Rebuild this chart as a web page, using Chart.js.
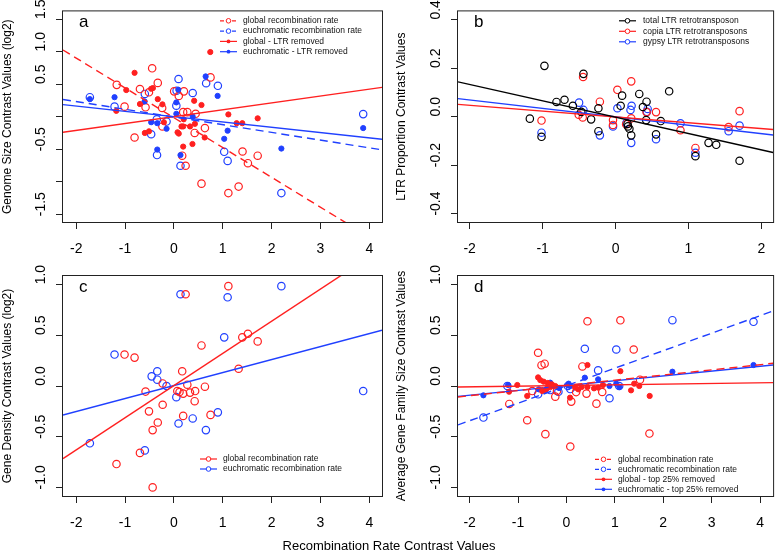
<!DOCTYPE html>
<html>
<head>
<meta charset="utf-8">
<title>Recombination rate contrasts</title>
<script src="https://cdn.jsdelivr.net/npm/chart.js@4.4.1/dist/chart.umd.min.js"></script>
<style>
  html, body { margin: 0; padding: 0; background: #fff; }
  #wrap { position: relative; width: 778px; height: 552px; overflow: hidden;
          font-family: 'Liberation Sans', Arial, Helvetica, sans-serif; }
  #wrap canvas { position: absolute; }
  #xTitle { position: absolute; left: 0; top: 538px; width: 778px; text-align: center;
            font-size: 13px; line-height: 15px; color: #000; }
</style>
</head>
<body>
<div id="wrap">
  <canvas id="chartA" width="389" height="262" style="left:0;top:0"></canvas>
  <canvas id="chartB" width="389" height="262" style="left:389px;top:0"></canvas>
  <canvas id="chartC" width="389" height="290" style="left:0;top:262px"></canvas>
  <canvas id="chartD" width="389" height="290" style="left:389px;top:262px"></canvas>
  <div id="xTitle">Recombination Rate Contrast Values</div>
</div>
<script>
// ==================== Data ====================

// --- panel a: genome size ---
const aGlobalX = [-1.17, -1.01, -0.805, -0.695, -0.58, -0.51, -0.445, -0.33, -0.24, -0.235, 0.005, 0.10, 0.205, 0.19, 0.275, 0.445, 0.425, 0.635, 0.75, 0.24, 0.17, 0.565, 1.115, 1.325, 1.405, 1.515, 1.715];
const aGlobalY = [0.49, 0.155, -0.32, 0.425, 0.145, 0.375, 0.745, 0.52, 0.135, -0.15, 0.39, 0.32, 0.39, 0.07, 0.07, 0.045, -0.25, -0.175, 0.605, -0.755, -0.60, -1.03, -1.175, -1.075, -0.535, -0.715, -0.60];
const aEuchX = [-1.72, -1.215, -0.595, -0.465, -0.345, -0.35, -0.15, 0.05, 0.055, 0.095, 0.135, 0.385, 0.66, 0.90, 1.03, 1.10, 2.20, 3.875];
const aEuchY = [0.30, 0.155, 0.35, -0.27, -0.59, -0.04, -0.075, 0.17, 0.40, 0.58, -0.755, 0.365, 0.515, 0.475, -0.54, -0.68, -1.175, 0.04];
const aGlobalLtrX = [-1.18, -0.975, -0.805, -0.695, -0.595, -0.51, -0.465, -0.43, -0.33, -0.235, -0.205, 0.075, 0.10, 0.155, 0.19, 0.19, 0.20, 0.33, 0.38, 0.415, 0.43, 0.565, 0.63, 0.745, 1.115, 1.285, 1.40, 1.715];
const aGlobalLtrY = [0.09, 0.41, 0.675, 0.195, -0.25, -0.225, 0.43, 0.44, 0.27, 0.19, -0.085, -0.24, -0.26, -0.15, -0.15, -0.46, -0.04, -0.15, -0.42, 0.245, -0.11, 0.18, -0.32, 0.995, 0.035, -0.10, -0.10, -0.025];
const aEuchLtrX = [-1.72, -1.215, -0.60, -0.465, -0.34, -0.34, -0.15, 0.05, 0.05, 0.09, 0.135, 0.385, 0.65, 0.895, 1.03, 1.10, 2.20, 3.875];
const aEuchLtrY = [0.27, 0.30, 0.235, -0.085, -0.505, -0.10, -0.185, 0.22, 0.045, 0.415, -0.59, 0.0, 0.62, 0.32, -0.34, -0.215, -0.49, -0.175];
const aFitX = [-2.27, 4.26];
const aGlobalFit = [1.026, -1.97];
const aEuchFit = [0.265, -0.51];
const aGlobalLtrFit = [-0.24, 0.452];
const aEuchLtrFit = [0.186, -0.347];
const aXTicks = [-2, -1, 0, 1, 2, 3, 4];
const aXLabels = ['-2', '-1', '0', '1', '2', '3', '4'];
const aYTicks = [-1.5, -1, -0.5, 0, 0.5, 1, 1.5];
const aYLabels = ['-1.5', '', '-0.5', '', '0.5', '1.0', '1.5'];

// --- panel b: LTR proportion ---
const bTotalX = [-1.175, -1.015, -0.975, -0.81, -0.70, -0.585, -0.44, -0.47, -0.335, -0.235, -0.235, 0.07, 0.09, 0.165, 0.17, 0.19, 0.215, 0.325, 0.375, 0.425, 0.42, 0.555, 0.62, 0.735, 1.095, 1.275, 1.38, 1.70];
const bTotalY = [-0.008, -0.083, 0.21, 0.061, 0.07, 0.045, 0.177, 0.02, -0.011, 0.035, -0.06, 0.045, 0.087, -0.03, -0.04, -0.05, -0.077, 0.094, 0.04, 0.062, -0.014, -0.073, -0.018, 0.105, -0.163, -0.108, -0.116, -0.182];
const bCopiaX = [-1.015, -0.505, -0.445, -0.45, -0.215, -0.035, -0.035, 0.025, 0.145, 0.215, 0.215, 0.425, 0.555, 0.89, 1.095, 1.55, 1.70];
const bCopiaY = [-0.016, 0.008, 0.164, -0.003, 0.062, -0.034, -0.014, 0.111, -0.031, 0.146, -0.007, 0.019, 0.019, -0.056, -0.129, -0.043, 0.023];
const bGypsyX = [-1.015, -0.50, -0.44, -0.215, -0.035, 0.025, 0.15, 0.205, 0.22, 0.215, 0.44, 0.43, 0.555, 0.89, 1.095, 1.55, 1.70];
const bGypsyY = [-0.066, 0.058, 0.028, -0.077, -0.04, 0.035, -0.025, 0.028, 0.045, -0.108, 0.032, 0.02, -0.093, -0.027, -0.149, -0.06, -0.037];
const bFitX = [-2.16, 2.16];
const bTotalFit = [0.144, -0.148];
const bCopiaFit = [0.051, -0.053];
const bGypsyFit = [0.0745, -0.0757];
const bXTicks = [-2, -1, 0, 1, 2];
const bXLabels = ['-2', '-1', '0', '1', '2'];
const bYTicks = [-0.4, -0.2, 0, 0.2, 0.4];
const bYLabels = ['-0.4', '-0.2', '0.0', '0.2', '0.4'];

// --- panel c: gene density ---
const cGlobalX = [-1.01, -0.805, -1.175, -0.695, -0.58, -0.51, -0.435, -0.435, -0.33, -0.23, -0.23, 0.07, 0.115, 0.17, 0.19, 0.19, 0.24, 0.275, 0.33, 0.435, 0.425, 0.565, 0.635, 0.75, 1.115, 1.325, 1.40, 1.515, 1.715];
const cGlobalY = [0.31, 0.28, -0.77, -0.66, -0.055, -0.25, -0.435, -1.0, -0.36, -0.185, 0.025, -0.05, -0.06, 0.145, -0.075, -0.295, 0.905, 0.013, -0.065, -0.05, -0.15, 0.40, -0.007, -0.285, 0.985, 0.17, 0.48, 0.515, 0.44];
const cEuchX = [-1.72, -1.215, -0.595, -0.455, -0.34, -0.34, -0.15, 0.05, 0.095, 0.135, 0.385, 0.655, 0.90, 1.03, 1.10, 2.20, 3.875];
const cEuchY = [-0.565, 0.31, -0.635, 0.095, 0.145, 0.062, 0.0, -0.11, -0.37, 0.905, -0.32, -0.435, -0.26, 0.48, 0.875, 0.985, -0.05];
const cFitX = [-2.27, 4.26];
const cGlobalFit = [-0.716, 1.356];
const cEuchFit = [-0.287, 0.55];
const cXTicks = [-2, -1, 0, 1, 2, 3, 4];
const cXLabels = ['-2', '-1', '0', '1', '2', '3', '4'];
const cYTicks = [-1, -0.5, 0, 0.5, 1];
const cYLabels = ['-1.0', '-0.5', '0.0', '0.5', '1.0'];

// --- panel d: average gene family size ---
const dGlobalX = [-1.18, -0.81, -0.705, -0.585, -0.515, -0.45, -0.435, -0.23, -0.195, 0.08, 0.10, 0.20, 0.33, 0.415, 0.435, 0.62, 0.74, 1.115, 1.39, 1.52, 1.715];
const dGlobalY = [-0.177, -0.338, -0.05, 0.328, 0.205, 0.22, -0.475, -0.105, -0.05, -0.597, -0.154, -0.06, 0.193, -0.075, 0.638, -0.174, -0.059, 0.648, 0.36, 0.062, -0.469];
const dEuchX = [-1.715, -1.22, -0.585, -0.335, -0.165, 0.03, 0.08, 0.38, 0.655, 0.89, 1.03, 1.09, 2.19, 3.865];
const dEuchY = [-0.311, 0.0, -0.082, -0.04, -0.056, 0.0, -0.03, 0.367, 0.154, -0.121, 0.36, 0.0, 0.649, 0.633];
const dGlobalTopX = [-1.185, -1.015, -0.81, -0.585, -0.54, -0.47, -0.385, -0.30, -0.23, -0.40, -0.50, -0.44, -0.33, 0.075, 0.18, 0.245, 0.315, 0.435, 0.435, 0.57, 0.655, 0.755, 1.115, 1.335, 1.40, 1.505, 1.72];
const dGlobalTopY = [-0.056, 0.01, -0.098, 0.085, 0.058, 0.043, 0.03, 0.016, 0.0, -0.023, -0.05, -0.045, -0.01, -0.115, -0.016, -0.033, -0.01, 0.207, -0.01, -0.023, -0.016, 0.01, 0.146, -0.043, 0.023, 0.0, -0.098];
const dEuchTopX = [-1.715, -1.205, -0.57, -0.335, -0.15, 0.03, 0.045, 0.075, 0.38, 0.655, 0.89, 1.03, 1.095, 2.19, 3.865];
const dEuchTopY = [-0.092, 0.01, -0.033, 0.033, -0.02, 0.007, 0.023, 0.0, 0.082, 0.066, 0.0, 0.023, -0.01, 0.141, 0.207];
const dFitX = [-2.24, 4.27];
const dGlobalFit = [-0.108, 0.224];
const dEuchFit = [-0.384, 0.740];
const dGlobalTopFit = [-0.0098, 0.033];
const dEuchTopFit = [-0.102, 0.207];
const dXTicks = [-2, -1, 0, 1, 2, 3, 4];
const dXLabels = ['-2', '-1', '0', '1', '2', '3', '4'];
const dYTicks = [-1, -0.5, 0, 0.5, 1];
const dYLabels = ['-1.0', '-0.5', '0.0', '0.5', '1.0'];

// ==================== Styles ====================
const RED = '#ff2020';
const BLUE = '#2040ff';
const BLACK = '#000000';
const FONT = "'Liberation Sans', Arial, Helvetica, sans-serif";
const DASH = [8, 5];

// ==================== Helpers ====================
function pts(xs, ys) {
  return xs.map((x, i) => ({ x: x, y: ys[i] }));
}

function pointSet(label, xs, ys, color, filled, dashed) {
  return {
    label: label,
    data: pts(xs, ys),
    showLine: false,
    pointStyle: 'circle',
    pointRadius: filled ? 2.6 : 3.7,
    pointHoverRadius: filled ? 2.6 : 3.7,
    pointBorderWidth: filled ? 1 : 1.2,
    pointBackgroundColor: filled ? color : 'rgba(0,0,0,0)',
    pointBorderColor: color,
    borderColor: color,
    backgroundColor: color,
    legendFilled: filled,
    legendDashed: dashed,
    order: filled ? 2 : 3
  };
}

function fitLine(xs, ys, color, dashed) {
  return {
    data: pts(xs, ys),
    showLine: true,
    borderColor: color,
    borderWidth: 1.4,
    borderDash: dashed ? DASH : [],
    pointRadius: 0,
    pointHoverRadius: 0,
    fill: false,
    isFit: true,
    order: 1
  };
}

// plot box, panel letter and R-style legend
const panelPlugin = {
  id: 'panelDeco',
  afterDatasetsDraw(chart, args, opts) {
    const ctx = chart.ctx;
    const ca = chart.chartArea;
    ctx.save();
    ctx.strokeStyle = '#222';
    ctx.lineWidth = 1;
    ctx.strokeRect(ca.left - 0.5, ca.top - 0.5, ca.right - ca.left + 1, ca.bottom - ca.top + 1);

    ctx.fillStyle = '#000';
    ctx.font = '17px ' + FONT;
    ctx.textBaseline = 'alphabetic';
    ctx.textAlign = 'left';
    ctx.fillText(opts.letter, ca.left + 16, ca.top + 16);

    const items = chart.data.datasets.filter(d => !d.isFit);
    ctx.font = '8.5px ' + FONT;
    ctx.textBaseline = 'middle';
    items.forEach((ds, i) => {
      const y = opts.y + i * opts.rowH;
      const cx = opts.x + opts.seg / 2;
      ctx.strokeStyle = ds.pointBorderColor;
      ctx.lineWidth = 1.2;
      ctx.setLineDash(ds.legendDashed ? [4, 2] : []);
      ctx.beginPath();
      ctx.moveTo(opts.x, y);
      ctx.lineTo(opts.x + opts.seg, y);
      ctx.stroke();
      ctx.setLineDash([]);
      ctx.beginPath();
      if (ds.legendFilled) {
        ctx.arc(cx, y, 1.9, 0, Math.PI * 2);
        ctx.fillStyle = ds.pointBorderColor;
        ctx.fill();
      } else {
        ctx.arc(cx, y, 2.3, 0, Math.PI * 2);
        ctx.fillStyle = '#fff';
        ctx.fill();
        ctx.lineWidth = 1;
        ctx.stroke();
      }
      ctx.fillStyle = '#111';
      ctx.fillText(ds.label, opts.textX, y);
    });
    ctx.restore();
  }
};

function axisX(min, max, ticks, labels, height) {
  return {
    type: 'linear',
    min: min,
    max: max,
    bounds: 'data',
    afterBuildTicks: s => { s.ticks = ticks.map(v => ({ value: v })); },
    afterFit: s => { s.height = height; },
    grid: { drawOnChartArea: false, drawTicks: true, tickLength: 7, color: '#222', lineWidth: 1 },
    border: { display: false },
    ticks: {
      autoSkip: false,
      maxRotation: 0,
      padding: 12,
      color: '#000',
      font: { family: FONT, size: 14 },
      callback: (v, i) => labels[i]
    }
  };
}

function axisY(min, max, ticks, labels, width, title, titlePad) {
  return {
    type: 'linear',
    min: min,
    max: max,
    bounds: 'data',
    afterBuildTicks: s => { s.ticks = ticks.map(v => ({ value: v })); },
    afterFit: s => { s.width = width; },
    grid: { drawOnChartArea: false, drawTicks: true, tickLength: 7, color: '#222', lineWidth: 1 },
    border: { display: false },
    title: {
      display: true,
      text: title,
      color: '#000',
      font: { family: FONT, size: 12 },
      padding: { top: titlePad, bottom: 0 }
    },
    ticks: {
      autoSkip: false,
      minRotation: 90,
      maxRotation: 90,
      crossAlign: 'center',
      labelOffset: -10,
      padding: 3,
      color: '#000',
      font: { family: FONT, size: 14 },
      callback: (v, i) => labels[i]
    }
  };
}

function makeChart(id, datasets, cfg) {
  return new Chart(document.getElementById(id), {
    type: 'scatter',
    data: { datasets: datasets },
    options: {
      responsive: false,
      animation: false,
      events: [],
      layout: { padding: cfg.padding },
      plugins: {
        legend: { display: false },
        tooltip: { enabled: false },
        panelDeco: cfg.deco
      },
      scales: { x: cfg.x, y: cfg.y }
    },
    plugins: [panelPlugin]
  });
}

// ==================== Charts ====================
makeChart('chartA', [
  pointSet('global recombination rate', aGlobalX, aGlobalY, RED, false, true),
  pointSet('euchromatic recombination rate', aEuchX, aEuchY, BLUE, false, true),
  pointSet('global - LTR removed', aGlobalLtrX, aGlobalLtrY, RED, true, false),
  pointSet('euchromatic - LTR removed', aEuchLtrX, aEuchLtrY, BLUE, true, false),
  fitLine(aFitX, aGlobalFit, RED, true),
  fitLine(aFitX, aEuchFit, BLUE, true),
  fitLine(aFitX, aGlobalLtrFit, RED, false),
  fitLine(aFitX, aEuchLtrFit, BLUE, false)
], {
  padding: { left: 0, right: 7, top: 1, bottom: 0 },
  deco: { letter: 'a', x: 220, y: 20.8, rowH: 10.3, seg: 17, textX: 243 },
  x: axisX(aFitX[0], aFitX[1], aXTicks, aXLabels, 40),
  y: axisY(-1.62, 1.62, aYTicks, aYLabels, 63, 'Genome Size Contrast Values (log2)', 0)
});

makeChart('chartB', [
  pointSet('total LTR retrotransposon', bTotalX, bTotalY, BLACK, false, false),
  pointSet('copia LTR retrotransposons', bCopiaX, bCopiaY, RED, false, false),
  pointSet('gypsy LTR retrotransposons', bGypsyX, bGypsyY, BLUE, false, false),
  fitLine(bFitX, bTotalFit, BLACK, false),
  fitLine(bFitX, bCopiaFit, RED, false),
  fitLine(bFitX, bGypsyFit, BLUE, false)
], {
  padding: { left: 0, right: 1, top: 1, bottom: 0 },
  deco: { letter: 'b', x: 230, y: 20.8, rowH: 10.5, seg: 17, textX: 254 },
  x: axisX(bFitX[0], bFitX[1], bXTicks, bXLabels, 40),
  y: axisY(-0.435, 0.435, bYTicks, bYLabels, 69, 'LTR Proportion Contrast Values', 5)
});

makeChart('chartC', [
  pointSet('global recombination rate', cGlobalX, cGlobalY, RED, false, false),
  pointSet('euchromatic recombination rate', cEuchX, cEuchY, BLUE, false, false),
  fitLine(cFitX, cGlobalFit, RED, false),
  fitLine(cFitX, cEuchFit, BLUE, false)
], {
  padding: { left: 0, right: 7, top: 14, bottom: 0 },
  deco: { letter: 'c', x: 200, y: 197, rowH: 10, seg: 17, textX: 223 },
  x: axisX(cFitX[0], cFitX[1], cXTicks, cXLabels, 56),
  y: axisY(-1.085, 1.085, cYTicks, cYLabels, 63, 'Gene Density Contrast Values (log2)', 0)
});

makeChart('chartD', [
  pointSet('global recombination rate', dGlobalX, dGlobalY, RED, false, true),
  pointSet('euchromatic recombination rate', dEuchX, dEuchY, BLUE, false, true),
  pointSet('global - top 25% removed', dGlobalTopX, dGlobalTopY, RED, true, false),
  pointSet('euchromatic - top 25% removed', dEuchTopX, dEuchTopY, BLUE, true, false),
  fitLine(dFitX, dGlobalFit, RED, true),
  fitLine(dFitX, dEuchFit, BLUE, true),
  fitLine(dFitX, dGlobalTopFit, RED, false),
  fitLine(dFitX, dEuchTopFit, BLUE, false)
], {
  padding: { left: 0, right: 1, top: 14, bottom: 0 },
  deco: { letter: 'd', x: 206, y: 197.3, rowH: 10, seg: 17, textX: 229 },
  x: axisX(dFitX[0], dFitX[1], dXTicks, dXLabels, 56),
  y: axisY(-1.085, 1.085, dYTicks, dYLabels, 69, 'Average Gene Family Size Contrast Values', 5)
});
</script>
</body>
</html>
